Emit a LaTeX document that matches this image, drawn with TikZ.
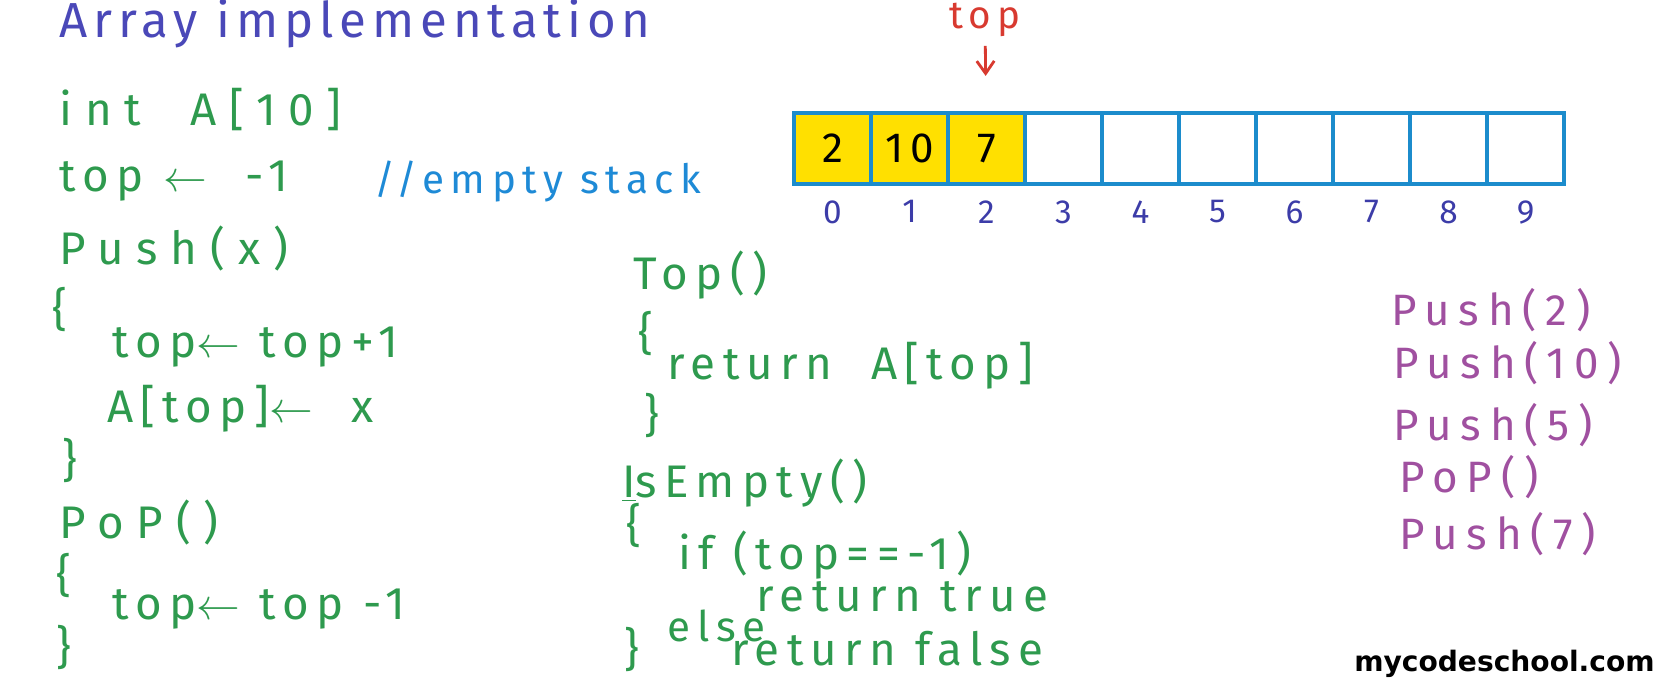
\documentclass[tikz,border=0pt]{standalone}
\usepackage{fontspec}
\setmainfont{Fira Sans}
\newfontfamily\handfont[LetterSpace=16]{Fira Sans}
\newfontfamily\widefont[LetterSpace=28]{Fira Sans}
\newfontfamily\titlefont[LetterSpace=12]{Fira Sans}
\newfontfamily\callfont[LetterSpace=20]{Fira Sans}
\newfontfamily\logofont{DejaVu Sans}
\usetikzlibrary{positioning,arrows.meta}
\definecolor{codegreen}{HTML}{2E9A4E}
\definecolor{titleblue}{HTML}{4A48B8}
\definecolor{commentblue}{HTML}{1E8AD6}
\definecolor{cellblue}{HTML}{1C8CCC}
\definecolor{idxblue}{HTML}{3C3CA8}
\definecolor{cellyellow}{HTML}{FFE000}
\definecolor{callpurple}{HTML}{A050A0}
\definecolor{topred}{HTML}{D83A30}

\begin{document}
\begin{tikzpicture}[
    x=0.02cm, y=-0.02cm,
    code/.style={anchor=west, inner sep=0pt, text=codegreen, font=\handfont\fontsize{26}{30}\selectfont},
    widecode/.style={code, font=\widefont\fontsize{26}{30}\selectfont},
    title/.style={anchor=west, inner sep=0pt, text=titleblue, font=\titlefont\fontsize{28}{32}\selectfont},
    comment/.style={anchor=west, inner sep=0pt, text=commentblue, font=\handfont\fontsize{23}{27}\selectfont},
    call/.style={anchor=west, inner sep=0pt, text=callpurple, font=\callfont\fontsize{25}{29}\selectfont},
    cell/.style={draw=cellblue, line width=2.2pt, minimum width=1.54cm, minimum height=1.42cm, inner sep=0pt, font=\handfont\fontsize{24}{28}\selectfont},
    idx/.style={inner sep=0pt, text=idxblue, font=\handfont\fontsize{19}{22}\selectfont},
    ptr/.style={-{Straight Barb[length=2.5mm, width=3.5mm]}, draw=topred, line width=1.6pt},
    logo/.style={anchor=east, inner sep=0pt, font=\logofont\bfseries\fontsize{16}{19}\selectfont}
]
\useasboundingbox (0,0) rectangle (1674,680);

\node[title] (title) at (59,24) {Array implementation};

% left column
\node[widecode] (decl) at (59,110) {int\ \ A[10]};
\node[code] (init)   at (59,181) {top $\leftarrow$\ \ -1};
\node[comment] (empty) at (374,181) {//empty stack};
\node[widecode] (push) at (59,249) {Push(x)};
\node[code] (pusho)  at (52,310) {\{};
\node[code] (inc)    at (112,347) {top$\leftarrow$ top+1};
\node[code] (store)  at (107,409) {A[top]$\leftarrow$\ \ x};
\node[code] (pushc)  at (62,461) {\}};
\node[widecode] (pop) at (59,523) {PoP()};
\node[code] (popo)   at (56,576) {\{};
\node[code] (dec)    at (112,609) {top$\leftarrow$\ top -1};
\node[code] (popc)   at (56,648) {\}};

% middle column
\node[code] (topf)   at (633,275) {Top()};
\node[code] (topo)   at (638,334) {\{};
\node[code] (ret)    at (667,366) {return\ \ A[top]};
\node[code] (topc)   at (644,416) {\}};
\node[code] (isemp)  at (622,483) {\underline{I}sEmpty()};
\node[code] (iso)    at (626,526) {\{};
\node[code] (cond)   at (678,555) {if (top==-1)};
\node[code] (rett)   at (756,597) {return true};
\node[code, font=\handfont\fontsize{24}{28}\selectfont] (els) at (667,626) {else};
\node[code] (retf)   at (731,649) {return false};
\node[code] (isc)    at (624,650) {\}};

% array
\foreach \i/\v/\f in {0/2/cellyellow,1/10/cellyellow,2/7/cellyellow,3//white,4//white,5//white,6//white,7//white,8//white,9//white}{
  \node[cell, fill=\f] (c\i) at ({832.5+77*\i},148.5) {\v};
  \node[idx, below=8pt of c\i] (i\i) {\i};
}
\node[inner sep=0pt, text=topred, font=\handfont\fontsize{22}{26}\selectfont] (toplbl) at (985,20) {top};
\draw[ptr, shorten <=5pt, shorten >=20pt] (toplbl) -- (c2);

% right column
\node[call] (p2)  at (1391,310) {Push(2)};
\node[call] (p10) at (1393,363) {Push(10)};
\node[call] (p5)  at (1393,425) {Push(5)};
\node[call] (pp)  at (1399,477) {PoP()};
\node[call] (p7)  at (1399,534) {Push(7)};

\node[logo] (site) at (1655,664) {mycodeschool.com};
\end{tikzpicture}
\end{document}
